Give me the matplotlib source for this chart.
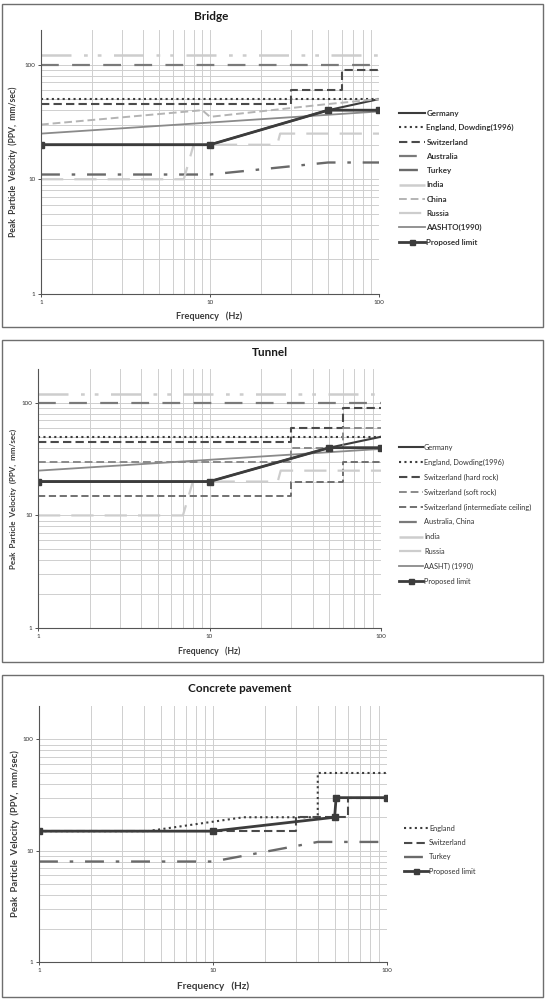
import matplotlib.pyplot as plt
from matplotlib.patches import Rectangle
from matplotlib.ticker import FixedLocator, NullFormatter

plt.rcParams['font.family'] = ['Lato', 'DejaVu Sans']

W, H = 545, 999

# ------------------------------------------------------------------ data ----
# bridge
BR_GERMANY_F = [1, 10, 50, 100]
BR_GERMANY_V = [20, 20, 40, 50]
BR_ENGLAND_F = [1, 100]
BR_ENGLAND_V = [50, 50]
BR_SWISS_F = [1, 30, 30, 60, 60, 100]
BR_SWISS_V = [45, 45, 60, 60, 90, 90]
BR_AUSTRALIA_F = [1, 100]
BR_AUSTRALIA_V = [100, 100]
BR_TURKEY_F = [1, 10, 50, 100]
BR_TURKEY_V = [11, 11, 14, 14]
BR_INDIA_F = [1, 100]
BR_INDIA_V = [120, 120]
BR_CHINA_F = [1, 9, 10, 48, 100]
BR_CHINA_V = [30, 40, 35, 45, 50]
BR_RUSSIA_F = [1, 7, 8, 25, 26, 100]
BR_RUSSIA_V = [10, 10, 20, 20, 25, 25]
BR_AASHTO_F = [1, 100]
BR_AASHTO_V = [25, 39]
BR_PROPOSED_F = [1, 10, 50, 100]
BR_PROPOSED_V = [20, 20, 40, 40]

# tunnel
TU_GERMANY_F = [1, 10, 50, 100]
TU_GERMANY_V = [20, 20, 40, 50]
TU_ENGLAND_F = [1, 100]
TU_ENGLAND_V = [50, 50]
TU_SWISS_HARD_F = [1, 30, 30, 60, 60, 100]
TU_SWISS_HARD_V = [45, 45, 60, 60, 90, 90]
TU_SWISS_SOFT_F = [1, 30, 30, 60, 60, 100]
TU_SWISS_SOFT_V = [30, 30, 40, 40, 60, 60]
TU_SWISS_INTER_F = [1, 30, 30, 60, 60, 100]
TU_SWISS_INTER_V = [15, 15, 20, 20, 30, 30]
TU_AUSCHINA_F = [1, 100]
TU_AUSCHINA_V = [100, 100]
TU_INDIA_F = [1, 100]
TU_INDIA_V = [120, 120]
TU_RUSSIA_F = [1, 7, 8, 25, 26, 100]
TU_RUSSIA_V = [10, 10, 20, 20, 25, 25]
TU_AASHTO_F = [1, 100]
TU_AASHTO_V = [25, 39]
TU_PROPOSED_F = [1, 10, 50, 100]
TU_PROPOSED_V = [20, 20, 40, 40]

# concrete pavement
CP_ENGLAND_F = [1, 4.2, 15, 40, 40, 100]
CP_ENGLAND_V = [15, 15, 20, 20, 50, 50]
CP_SWISS_F = [1, 30, 30, 60, 60, 100]
CP_SWISS_V = [15, 15, 20, 20, 30, 30]
CP_TURKEY_F = [1, 10, 40, 100]
CP_TURKEY_V = [8, 8, 12, 12]
CP_PROPOSED_F = [1, 10, 50, 51, 100]
CP_PROPOSED_V = [15, 15, 20, 30, 30]

# ---------------------------------------------------------------- styles ----
DARK, MID, LIGHT, PALE = "#3c3c3c", "#7a7a7a", "#b4b4b4", "#cdcdcd"
STY = {
    "germany": dict(color=DARK, lw=1.5, ls="-"),
    "england": dict(color=DARK, lw=1.5, ls=(0, (1, 1.6))),
    "swiss": dict(color="#4a4a4a", lw=1.5, ls=(0, (4, 2))),
    "swiss_soft": dict(color="#8a8a8a", lw=1.4, ls=(0, (4, 2))),
    "swiss_inter": dict(color="#666666", lw=1.3, ls=(0, (4, 2))),
    "australia": dict(color=MID, lw=1.6, ls=(0, (8, 6))),
    "turkey": dict(color="#6a6a6a", lw=1.7, ls=(0, (8, 5, 1.5, 5))),
    "india": dict(color=PALE, lw=1.8, ls=(0, (12, 5, 1.5, 4, 1.5, 5))),
    "china": dict(color=LIGHT, lw=1.4, ls=(0, (4, 2))),
    "russia": dict(color=PALE, lw=1.6, ls=(0, (10, 5))),
    "aashto": dict(color="#8a8a8a", lw=1.3, ls="-"),
    "proposed": dict(color=DARK, lw=2.0, ls="-", marker="s", ms=4.5),
}


def fx(x):
    return x / W


def fy(y):
    return 1 - y / H


fig = plt.figure(figsize=(W / 100, H / 100), dpi=100)


def panel(box, axbox, title, title_xy, series, leg_xy, leg_fs, leg_weight,
          leg_space, lab_fs, ylab_x, xlab_y, xlab_x=209, title_fs=8.5):
    x0, y0, x1, y1 = box
    fig.patches.append(Rectangle((fx(x0), fy(y1)), (x1 - x0) / W, (y1 - y0) / H,
                                 transform=fig.transFigure, fill=False,
                                 ec="#6e6e6e", lw=1.0))
    l, t, r, b = axbox
    ax = fig.add_axes([fx(l), fy(b), (r - l) / W, (b - t) / H])
    ax.set_xscale("log")
    ax.set_yscale("log")
    for label, f, v, key in series:
        ax.plot(f, v, label=label, **STY[key])
    ax.set_xlim(1, 100)
    ax.set_ylim(1, 200)
    ax.xaxis.set_major_locator(FixedLocator([1, 10, 100]))
    ax.yaxis.set_major_locator(FixedLocator([1, 10, 100]))
    ax.set_xticklabels(["1", "10", "100"])
    ax.set_yticklabels(["1", "10", "100"])
    ax.xaxis.set_minor_locator(FixedLocator([k * d for d in (1, 10) for k in range(2, 10)]))
    ax.yaxis.set_minor_locator(FixedLocator([k * d for d in (1, 10) for k in range(2, 10)]))
    ax.xaxis.set_minor_formatter(NullFormatter())
    ax.yaxis.set_minor_formatter(NullFormatter())
    ax.grid(True, which="both", color="#cfcfcf", lw=0.7)
    ax.set_axisbelow(True)
    ax.tick_params(which="major", labelsize=4.5, length=2, width=0.6, pad=2,
                   colors="#333333")
    ax.tick_params(which="minor", length=0)
    for s in ("top", "right"):
        ax.spines[s].set_visible(False)
    for s in ("left", "bottom"):
        ax.spines[s].set_color("#555555")
        ax.spines[s].set_linewidth(0.8)

    fig.text(fx(title_xy[0]), fy(title_xy[1]), title, ha="center", va="center",
             fontsize=title_fs, fontweight="bold", color="#1a1a1a")
    fig.text(fx(ylab_x), fy((t + b) / 2),
             "Peak  Particle  Velocity  (PPV,  mm/sec)", rotation=90,
             ha="center", va="center", fontsize=lab_fs, fontweight="bold",
             color="#3a3a3a")
    fig.text(fx(xlab_x), fy(xlab_y), "Frequency   (Hz)", ha="center",
             va="center", fontsize=lab_fs + 0.4, fontweight="bold",
             color="#3a3a3a")

    leg = fig.legend(*ax.get_legend_handles_labels(), loc="upper left",
                     bbox_to_anchor=(fx(leg_xy[0]), fy(leg_xy[1])),
                     frameon=False, fontsize=leg_fs, handlelength=3.2,
                     handletextpad=0.2, labelspacing=leg_space, borderpad=0,
                     borderaxespad=0, markerscale=0.8)
    for txt in leg.get_texts():
        txt.set_fontweight(leg_weight)
        txt.set_color("#333333")
    return ax


panel((2, 4, 543, 327), (41, 30, 379, 294), "Bridge", (211, 16),
      [("Germany", BR_GERMANY_F, BR_GERMANY_V, "germany"),
       ("England, Dowding(1996)", BR_ENGLAND_F, BR_ENGLAND_V, "england"),
       ("Switzerland", BR_SWISS_F, BR_SWISS_V, "swiss"),
       ("Australia", BR_AUSTRALIA_F, BR_AUSTRALIA_V, "australia"),
       ("Turkey", BR_TURKEY_F, BR_TURKEY_V, "turkey"),
       ("India", BR_INDIA_F, BR_INDIA_V, "india"),
       ("China", BR_CHINA_F, BR_CHINA_V, "china"),
       ("Russia", BR_RUSSIA_F, BR_RUSSIA_V, "russia"),
       ("AASHTO(1990)", BR_AASHTO_F, BR_AASHTO_V, "aashto"),
       ("Proposed limit", BR_PROPOSED_F, BR_PROPOSED_V, "proposed")],
      (399, 110), 5.8, "bold", 0.9, 6.2, 13, 316)

panel((2, 340, 543, 662), (38, 369, 381, 628), "Tunnel", (270, 352),
      [("Germany", TU_GERMANY_F, TU_GERMANY_V, "germany"),
       ("England, Dowding(1996)", TU_ENGLAND_F, TU_ENGLAND_V, "england"),
       ("Switzerland (hard rock)", TU_SWISS_HARD_F, TU_SWISS_HARD_V, "swiss"),
       ("Switzerland (soft rock)", TU_SWISS_SOFT_F, TU_SWISS_SOFT_V, "swiss_soft"),
       ("Switzerland (intermediate ceiling)", TU_SWISS_INTER_F, TU_SWISS_INTER_V, "swiss_inter"),
       ("Australia, China", TU_AUSCHINA_F, TU_AUSCHINA_V, "australia"),
       ("India", TU_INDIA_F, TU_INDIA_V, "india"),
       ("Russia", TU_RUSSIA_F, TU_RUSSIA_V, "russia"),
       ("AASHT) (1990)", TU_AASHTO_F, TU_AASHTO_V, "aashto"),
       ("Proposed limit", TU_PROPOSED_F, TU_PROPOSED_V, "proposed")],
      (399, 444), 5.3, "normal", 1.05, 5.8, 13, 651)

panel((2, 675, 543, 997), (39, 706, 387, 962), "Concrete pavement", (240, 688),
      [("England", CP_ENGLAND_F, CP_ENGLAND_V, "england"),
       ("Switzerland", CP_SWISS_F, CP_SWISS_V, "swiss"),
       ("Turkey", CP_TURKEY_F, CP_TURKEY_V, "turkey"),
       ("Proposed limit", CP_PROPOSED_F, CP_PROPOSED_V, "proposed")],
      (404, 825), 5.3, "normal", 0.98, 6.8, 15, 986, xlab_x=213)

fig.savefig("out.png", dpi=100)
